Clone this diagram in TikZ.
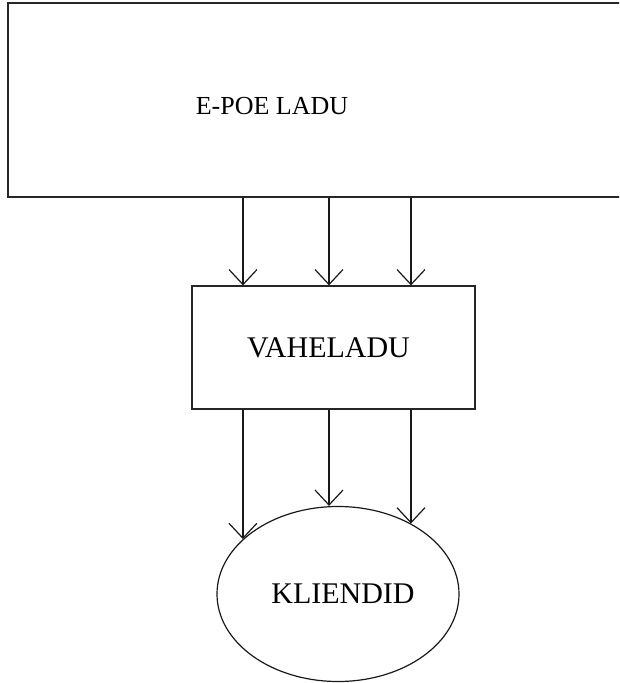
\documentclass[tikz,border=0pt]{standalone}
\usepackage{fontspec}
\setmainfont{Liberation Serif}
\usetikzlibrary{arrows.meta,shapes.geometric}
\begin{document}
\begin{tikzpicture}[x=1pt,y=-1pt,
  box/.style={draw=black!85,line width=1.2pt,rectangle,inner sep=0pt},
  lbl/.style={font=\fontsize{26}{30}\selectfont,text=black},
  biglbl/.style={font=\fontsize{30}{34}\selectfont,text=black},
  flow/.style={draw=black!90,line width=1.2pt,-{Straight Barb[length=15pt,width=28pt,line width=1.2pt]}}]
\useasboundingbox (0,0) rectangle (619,683);
\clip (0,0) rectangle (619,683);
% top layer
\node[box,minimum width=652pt,minimum height=194pt] (top) at (334,100) {};
\node[lbl] (toptext) at (272,106) {E-POE LADU};
% middle layer
\node[box,biglbl,minimum width=283pt,minimum height=123pt] (mid) at (333.5,347.5) {VAHELADU\kern10pt};
% clients
\node[draw=black!90,line width=1.2pt,ellipse,inner sep=0pt,biglbl,
      minimum width=242pt,minimum height=175pt] (kl) at (338,594) {\kern10pt KLIENDID};
% columns of the connectors
\coordinate (c1) at (243,0);
\coordinate (c2) at (329,0);
\coordinate (c3) at (411,0);
% top -> middle
\draw[flow] (top.south -| c1) -- (mid.north -| c1);
\draw[flow] (top.south -| c2) -- (mid.north -| c2);
\draw[flow] (top.south -| c3) -- (mid.north -| c3);
% middle -> clients
\draw[flow] (mid.south -| kl.150) -- (kl.150);
\draw[flow] (mid.south -| c2) -- (kl.north -| c2);
\draw[flow] (mid.south -| kl.44) -- (kl.44);
\end{tikzpicture}
\end{document}
